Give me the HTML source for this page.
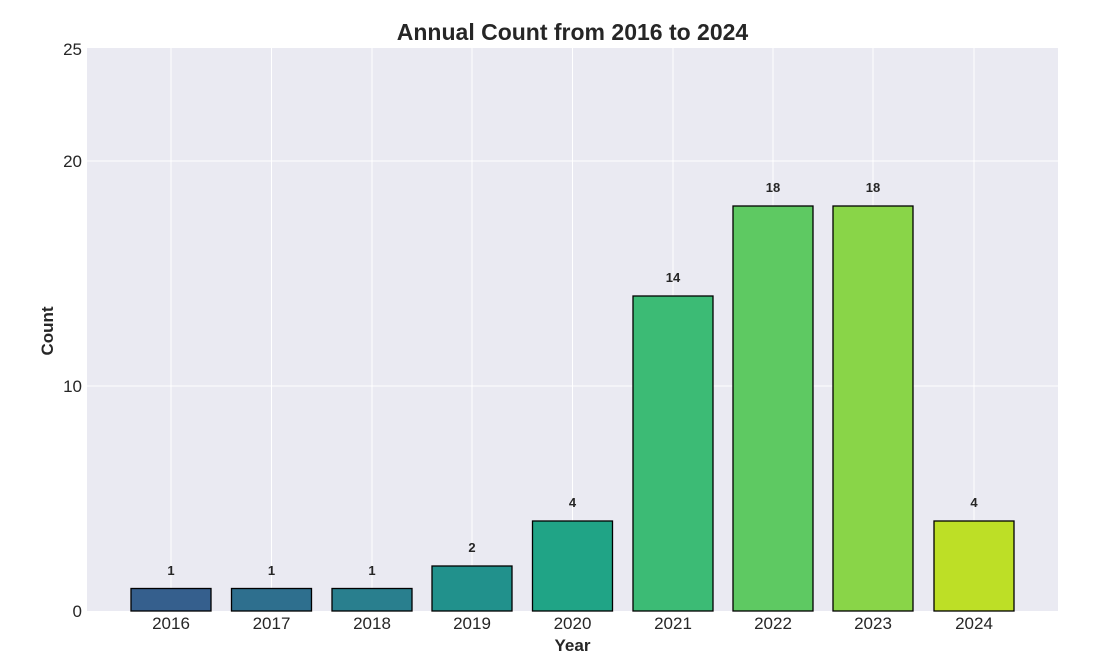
<!DOCTYPE html>
<html><head><meta charset="utf-8"><style>body{margin:0;background:#fff}</style></head><body>
<svg width="1098" height="662" xmlns="http://www.w3.org/2000/svg" font-family="Liberation Sans, sans-serif">
<rect x="87" y="48" width="971" height="563" fill="#eaeaf2"/>
<g stroke="#ffffff" stroke-width="1">
<line x1="87" y1="386" x2="1058" y2="386"/><line x1="87" y1="161" x2="1058" y2="161"/>
<line x1="171" y1="48" x2="171" y2="611"/><line x1="271.5" y1="48" x2="271.5" y2="611"/><line x1="372" y1="48" x2="372" y2="611"/><line x1="472" y1="48" x2="472" y2="611"/><line x1="572.5" y1="48" x2="572.5" y2="611"/><line x1="673" y1="48" x2="673" y2="611"/><line x1="773" y1="48" x2="773" y2="611"/><line x1="873" y1="48" x2="873" y2="611"/><line x1="974" y1="48" x2="974" y2="611"/>
</g>
<g stroke="#000" stroke-width="1.3">
<rect x="131" y="588.5" width="80" height="22.5" fill="#355f8d"/>
<rect x="231.5" y="588.5" width="80" height="22.5" fill="#2e6f8e"/>
<rect x="332" y="588.5" width="80" height="22.5" fill="#297f8e"/>
<rect x="432" y="566" width="80" height="45" fill="#21918c"/>
<rect x="532.5" y="521" width="80" height="90" fill="#20a486"/>
<rect x="633" y="296" width="80" height="315" fill="#3cbb75"/>
<rect x="733" y="206" width="80" height="405" fill="#5ec962"/>
<rect x="833" y="206" width="80" height="405" fill="#89d548"/>
<rect x="934" y="521" width="80" height="90" fill="#bddf26"/>
</g>
<g font-size="13" font-weight="bold" fill="#262626" text-anchor="middle">
<text x="171" y="575">1</text><text x="271.5" y="575">1</text><text x="372" y="575">1</text><text x="472" y="552">2</text><text x="572.5" y="507">4</text><text x="673" y="282">14</text><text x="773" y="192">18</text><text x="873" y="192">18</text><text x="974" y="507">4</text>
</g>
<g font-size="17" fill="#262626" text-anchor="middle">
<text x="171" y="629">2016</text><text x="271.5" y="629">2017</text><text x="372" y="629">2018</text><text x="472" y="629">2019</text><text x="572.5" y="629">2020</text><text x="673" y="629">2021</text><text x="773" y="629">2022</text><text x="873" y="629">2023</text><text x="974" y="629">2024</text>
</g>
<g font-size="17" fill="#262626" text-anchor="end">
<text x="82" y="617">0</text><text x="82" y="392">10</text><text x="82" y="167">20</text><text x="82" y="55">25</text>
</g>
<text x="572.5" y="651" font-size="17" font-weight="bold" fill="#262626" text-anchor="middle">Year</text>
<text transform="translate(53,331) rotate(-90)" font-size="17" font-weight="bold" fill="#262626" text-anchor="middle">Count</text>
<text x="572.5" y="40" font-size="23" font-weight="bold" fill="#262626" text-anchor="middle">Annual Count from 2016 to 2024</text>
</svg>
</body></html>
